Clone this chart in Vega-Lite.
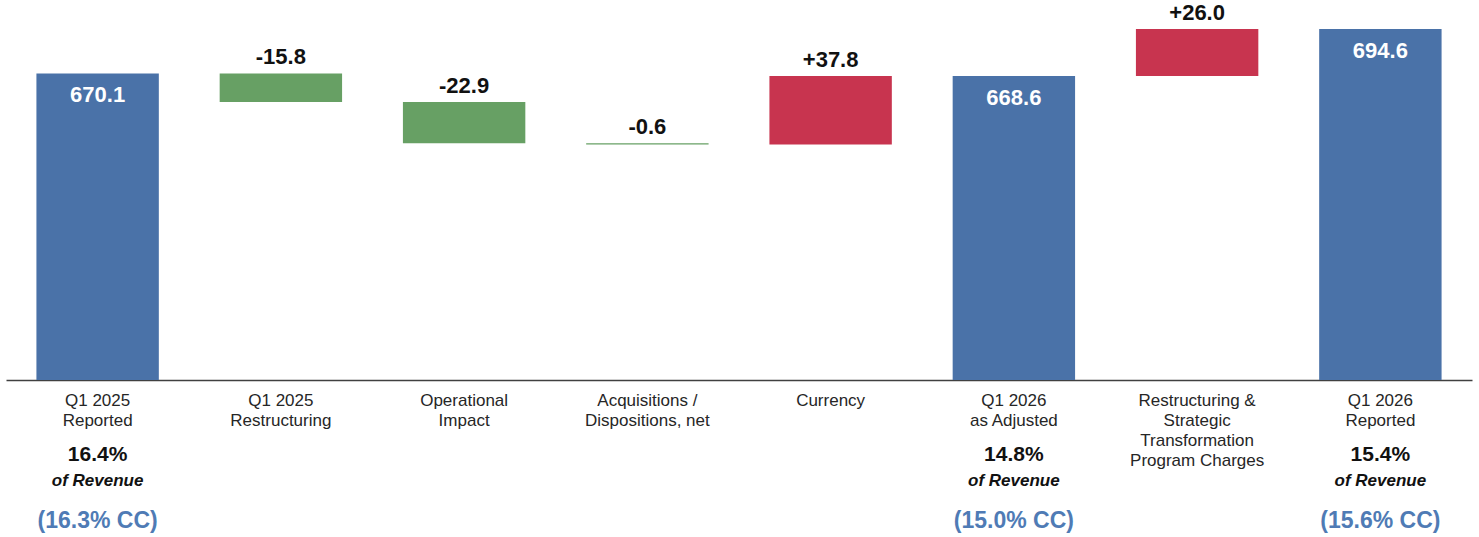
{
  "$schema": "https://vega.github.io/schema/vega-lite/v6.json",
  "width": 1466,
  "height": 380,
  "autosize": {"type": "none"},
  "padding": {"left": 6, "top": 0, "right": 7, "bottom": 157},
  "background": "white",
  "config": {"view": {"stroke": null}, "font": "Liberation Sans"},
  "data": {
    "values": [
      {"cat": "Q1 2025|Reported", "low": 0, "high": 670.1, "kind": "total", "label": "670.1", "pct": "16.4%", "cc": "(16.3% CC)"},
      {"cat": "Q1 2025|Restructuring", "low": 654.3, "high": 670.1, "kind": "decrease", "label": "-15.8"},
      {"cat": "Operational|Impact", "low": 631.4, "high": 654.3, "kind": "decrease", "label": "-22.9"},
      {"cat": "Acquisitions /|Dispositions, net", "low": 630.8, "high": 631.4, "kind": "decrease", "label": "-0.6"},
      {"cat": "Currency", "low": 630.8, "high": 668.6, "kind": "increase", "label": "+37.8"},
      {"cat": "Q1 2026|as Adjusted", "low": 0, "high": 668.6, "kind": "total", "label": "668.6", "pct": "14.8%", "cc": "(15.0% CC)"},
      {"cat": "Restructuring &|Strategic|Transformation|Program Charges", "low": 668.6, "high": 694.6, "kind": "increase", "label": "+26.0"},
      {"cat": "Q1 2026|Reported", "low": 0, "high": 694.6, "kind": "total", "label": "694.6", "pct": "15.4%", "cc": "(15.6% CC)"}
    ]
  },
  "encoding": {
    "x": {
      "field": "cat",
      "type": "nominal",
      "sort": null,
      "scale": {"paddingInner": 0.332, "paddingOuter": 0.166},
      "axis": {
        "title": null,
        "labelExpr": "split(datum.value, '|')",
        "labelAngle": 0,
        "labelLimit": 0,
        "labelOverlap": false,
        "labelBaseline": "top",
        "labelPadding": 12,
        "labelLineHeight": 20,
        "labelFontSize": 17,
        "labelColor": "#262626",
        "labelFont": "Liberation Sans",
        "ticks": false,
        "domainColor": "#404040",
        "domainWidth": 1.5
      }
    }
  },
  "layer": [
    {
      "mark": {"type": "bar", "clip": false},
      "encoding": {
        "y": {"field": "low", "type": "quantitative", "scale": {"domain": [500.5, 710.7], "zero": false, "clamp": true, "nice": false}, "axis": null},
        "y2": {"field": "high"},
        "color": {
          "field": "kind",
          "type": "nominal",
          "scale": {"domain": ["total", "decrease", "increase"], "range": ["#4a72a8", "#67a064", "#c8344f"]},
          "legend": null
        }
      }
    },
    {
      "transform": [{"filter": "datum.kind === 'total'"}],
      "mark": {"type": "text", "fontSize": 22, "fontWeight": "bold", "color": "white", "baseline": "alphabetic", "dy": 29},
      "encoding": {"y": {"field": "high", "type": "quantitative"}, "text": {"field": "label"}}
    },
    {
      "transform": [{"filter": "datum.kind !== 'total'"}],
      "mark": {"type": "text", "fontSize": 22, "fontWeight": "bold", "color": "#111111", "baseline": "alphabetic", "dy": -9},
      "encoding": {"y": {"field": "high", "type": "quantitative"}, "text": {"field": "label"}}
    },
    {
      "transform": [{"filter": "datum.pct"}],
      "mark": {"type": "text", "fontSize": 21, "fontWeight": "bold", "color": "#111111", "baseline": "middle", "dy": 75},
      "encoding": {"y": {"datum": 500.5}, "text": {"field": "pct"}}
    },
    {
      "transform": [{"filter": "datum.pct"}],
      "mark": {"type": "text", "fontSize": 17, "fontWeight": "bold", "fontStyle": "italic", "color": "#111111", "baseline": "middle", "dy": 101},
      "encoding": {"y": {"datum": 500.5}, "text": {"value": "of Revenue"}}
    },
    {
      "transform": [{"filter": "datum.cc"}],
      "mark": {"type": "text", "fontSize": 23, "fontWeight": "bold", "color": "#4f7bb5", "baseline": "middle", "dy": 141},
      "encoding": {"y": {"datum": 500.5}, "text": {"field": "cc"}}
    }
  ]
}
